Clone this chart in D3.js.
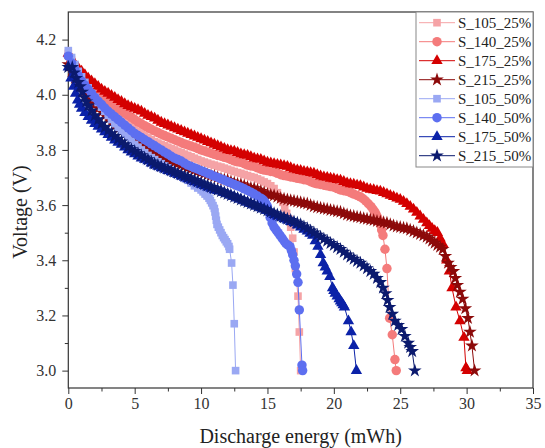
<!DOCTYPE html>
<html>
<head>
<meta charset="utf-8">
<script src="https://cdnjs.cloudflare.com/ajax/libs/d3/7.8.5/d3.min.js"></script>
<style>
  body { margin: 0; background: #fff; }
  text { font-family: "Liberation Serif", "Times New Roman", serif; }
</style>
</head>
<body>
<script>
'use strict';

// series labels (legend order = drawing order)
const seriesNames = ['S_105_25%', 'S_140_25%', 'S_175_25%', 'S_215_25%',
                     'S_105_50%', 'S_140_50%', 'S_175_50%', 'S_215_50%'];

// tick labels
const xTicks = [0, 5, 10, 15, 20, 25, 30, 35];
const yTicks = [3.0, 3.2, 3.4, 3.6, 3.8, 4.0, 4.2];

// [discharge energy (mWh), voltage (V)]
const s105_25 = [[0,4.15],[0.25,4.125],[0.5,4.10],[0.75,4.08],[1,4.06],[1.25,4.045],[1.5,4.03],
  [1.75,4.015],[2,4.00],[2.25,3.99],[2.5,3.98],[2.75,3.967],[3,3.955],[3.25,3.945],[3.5,3.935],
  [3.75,3.925],[4,3.915],[4.25,3.905],[4.5,3.895],[4.75,3.885],[5,3.875],[5.25,3.867],[5.5,3.86],
  [5.75,3.852],[6,3.845],[6.25,3.837],[6.5,3.83],[6.75,3.825],[7,3.82],[7.25,3.815],[7.5,3.81],
  [7.75,3.805],[8,3.80],[8.25,3.795],[8.5,3.79],[8.75,3.785],[9,3.78],[9.25,3.775],[9.5,3.77],
  [9.75,3.765],[10,3.76],[10.25,3.756],[10.5,3.752],[10.75,3.748],[11,3.745],[11.25,3.741],[11.5,3.738],
  [11.75,3.734],[12,3.73],[12.25,3.726],[12.5,3.722],[12.75,3.718],[13,3.715],[13.25,3.711],[13.5,3.707],
  [13.75,3.703],[14,3.70],[14.25,3.695],[14.5,3.69],[14.75,3.684],[15,3.678],[15.25,3.67],[15.5,3.66],
  [15.75,3.645],[16,3.625],[16.15,3.61],[16.3,3.59],[16.45,3.57],[16.6,3.55],[16.75,3.52],[16.9,3.48],
  [17.0,3.43],[17.1,3.37],[17.3,3.27],[17.4,3.14],[17.5,3.0]];

const s140_25 = [[0,4.14],[0.25,4.12],[0.5,4.10],[0.75,4.085],[1,4.07],[1.25,4.057],[1.5,4.045],
  [1.75,4.032],[2,4.02],[2.25,4.008],[2.5,3.996],[2.75,3.985],[3,3.975],[3.25,3.966],[3.5,3.958],[3.75,3.95],
  [4,3.942],[4.25,3.934],[4.5,3.926],[4.75,3.918],[5,3.91],[5.25,3.902],[5.5,3.895],[5.75,3.888],[6,3.881],
  [6.25,3.875],[6.5,3.869],[6.75,3.863],[7,3.857],[7.25,3.852],[7.5,3.847],[7.75,3.842],[8,3.837],[8.25,3.832],
  [8.5,3.827],[8.75,3.822],[9,3.818],[9.25,3.814],[9.5,3.81],[9.75,3.805],[10,3.80],[10.25,3.796],
  [10.5,3.792],[10.75,3.788],[11,3.784],[11.25,3.78],[11.5,3.777],[11.75,3.773],[12,3.77],[12.25,3.765],
  [12.5,3.76],[12.75,3.757],[13,3.755],[13.25,3.75],[13.5,3.745],[13.75,3.742],[14,3.74],[14.25,3.735],
  [14.5,3.73],[14.75,3.727],[15,3.725],[15.25,3.722],[15.5,3.72],[15.75,3.715],[16,3.71],[16.25,3.707],
  [16.5,3.705],[16.75,3.702],[17,3.70],[17.25,3.697],[17.5,3.695],[17.75,3.692],[18,3.69],[18.25,3.685],
  [18.5,3.68],[18.75,3.677],[19,3.675],[19.25,3.672],[19.5,3.67],[19.75,3.667],[20,3.665],[20.25,3.66],
  [20.5,3.655],[20.75,3.652],[21,3.65],[21.25,3.645],[21.5,3.64],[21.75,3.635],[22,3.63],[22.2,3.623],
  [22.4,3.615],[22.6,3.605],[22.8,3.595],[22.95,3.585],[23.1,3.575],[23.2,3.565],[23.3,3.555],
  [23.4,3.543],[23.5,3.53],[23.6,3.51],[23.7,3.49],[23.85,3.44],[24.0,3.37],[24.2,3.19],[24.4,3.13],
  [24.6,3.04],[24.7,3.0]];

const s175_25 = [[0,4.15],[0.25,4.13],[0.5,4.11],[0.75,4.097],[1,4.085],[1.25,4.072],[1.5,4.06],
  [1.75,4.05],[2,4.04],[2.25,4.03],[2.5,4.02],[2.75,4.012],[3,4.005],[3.25,3.997],[3.5,3.99],[3.75,3.982],
  [4,3.975],[4.25,3.967],[4.5,3.96],[4.75,3.955],[5,3.95],[5.25,3.945],[5.5,3.94],[5.75,3.932],[6,3.925],
  [6.25,3.92],[6.5,3.915],[6.75,3.907],[7,3.90],[7.25,3.895],[7.5,3.89],[7.75,3.885],[8,3.88],[8.25,3.875],
  [8.5,3.87],[8.75,3.865],[9,3.86],[9.25,3.855],[9.5,3.85],[9.75,3.845],[10,3.84],[10.25,3.835],
  [10.5,3.83],[10.75,3.825],[11,3.82],[11.25,3.815],[11.5,3.81],[11.75,3.805],[12,3.80],[12.25,3.797],
  [12.5,3.795],[12.75,3.79],[13,3.785],[13.25,3.782],[13.5,3.78],[13.75,3.775],[14,3.77],[14.25,3.767],
  [14.5,3.765],[14.75,3.76],[15,3.755],[15.25,3.752],[15.5,3.75],[15.75,3.747],[16,3.745],[16.25,3.742],
  [16.5,3.74],[16.75,3.735],[17,3.73],[17.25,3.727],[17.5,3.725],[17.75,3.722],[18,3.72],[18.25,3.717],
  [18.5,3.715],[18.75,3.71],[19,3.705],[19.25,3.702],[19.5,3.70],[19.75,3.697],[20,3.695],[20.25,3.692],
  [20.5,3.69],[20.75,3.685],[21,3.68],[21.25,3.677],[21.5,3.675],[21.75,3.672],[22,3.67],[22.25,3.665],
  [22.5,3.66],[22.75,3.657],[23,3.655],[23.25,3.652],[23.5,3.65],[23.75,3.645],[24,3.64],[24.25,3.635],
  [24.5,3.63],[24.75,3.625],[25,3.62],[25.25,3.613],[25.5,3.605],[25.75,3.595],[26,3.585],[26.25,3.573],
  [26.5,3.56],[26.75,3.548],[27,3.535],[27.2,3.525],[27.4,3.515],[27.6,3.507],[27.8,3.50],[28.0,3.48],
  [28.2,3.46],[28.5,3.40],[28.7,3.36],[28.9,3.30],[29.2,3.23],[29.5,3.18],[29.8,3.12],[29.95,3.01],
  [30.05,3.0]];

const s215_25 = [[0,4.11],[0.25,4.085],[0.5,4.06],[0.75,4.045],[1,4.03],[1.25,4.013],[1.5,3.996],
  [1.75,3.98],[2,3.965],[2.25,3.951],[2.5,3.938],[2.75,3.925],[3,3.912],[3.25,3.90],[3.5,3.889],[3.75,3.878],
  [4,3.868],[4.25,3.858],[4.5,3.849],[4.75,3.84],[5,3.831],[5.25,3.823],[5.5,3.815],[5.75,3.808],[6,3.801],
  [6.25,3.795],[6.5,3.789],[6.75,3.783],[7,3.777],[7.25,3.771],[7.5,3.766],[7.75,3.761],[8,3.756],[8.25,3.751],
  [8.5,3.746],[8.75,3.741],[9,3.736],[9.25,3.732],[9.5,3.727],[9.75,3.723],[10,3.719],[10.25,3.715],
  [10.5,3.71],[10.75,3.707],[11,3.705],[11.25,3.70],[11.5,3.695],[11.75,3.692],[12,3.69],[12.25,3.685],
  [12.5,3.68],[12.75,3.677],[13,3.675],[13.25,3.67],[13.5,3.665],[13.75,3.662],[14,3.66],[14.25,3.655],
  [14.5,3.65],[14.75,3.645],[15,3.64],[15.25,3.637],[15.5,3.635],[15.75,3.63],[16,3.625],[16.25,3.622],
  [16.5,3.62],[16.75,3.617],[17,3.615],[17.25,3.612],[17.5,3.61],[17.75,3.607],[18,3.605],[18.25,3.60],
  [18.5,3.595],[18.75,3.592],[19,3.59],[19.25,3.587],[19.5,3.585],[19.75,3.582],[20,3.58],[20.25,3.577],
  [20.5,3.575],[20.75,3.57],[21,3.565],[21.25,3.562],[21.5,3.56],[21.75,3.557],[22,3.555],[22.25,3.552],
  [22.5,3.55],[22.75,3.547],[23,3.545],[23.25,3.542],[23.5,3.54],[23.75,3.537],[24,3.535],[24.25,3.53],
  [24.5,3.525],[24.75,3.522],[25,3.52],[25.25,3.517],[25.5,3.515],[25.75,3.51],[26,3.505],[26.25,3.50],
  [26.5,3.495],[26.75,3.49],[27,3.485],[27.2,3.478],[27.4,3.47],[27.6,3.463],[27.8,3.455],[28.0,3.448],
  [28.2,3.44],[28.4,3.415],[28.6,3.39],[28.8,3.375],[29.0,3.36],[29.15,3.335],[29.3,3.31],[29.5,3.285],
  [29.7,3.26],[29.9,3.225],[30.1,3.19],[30.25,3.14],[30.4,3.09],[30.6,3.0]];

const s105_50 = [[0,4.16],[0.25,4.135],[0.5,4.11],[0.75,4.085],[1,4.065],[1.25,4.045],[1.5,4.025],
  [1.75,4.005],[2,3.99],[2.25,3.972],[2.5,3.955],[2.75,3.94],[3,3.925],[3.25,3.91],[3.5,3.895],
  [3.75,3.882],[4,3.87],[4.25,3.857],[4.5,3.845],[4.75,3.832],[5,3.82],[5.25,3.81],[5.5,3.80],[5.75,3.79],
  [6,3.78],[6.25,3.772],[6.5,3.765],[6.75,3.757],[7,3.75],[7.25,3.742],[7.5,3.735],[7.75,3.727],[8,3.72],
  [8.25,3.712],[8.5,3.705],[8.75,3.697],[9,3.69],[9.25,3.68],[9.5,3.67],[9.75,3.662],[10,3.655],
  [10.15,3.648],[10.3,3.64],[10.45,3.633],[10.6,3.625],[10.7,3.617],[10.8,3.608],[10.9,3.598],[11.0,3.588],
  [11.05,3.575],[11.1,3.56],[11.15,3.545],[11.2,3.53],[11.3,3.52],[11.4,3.51],[11.5,3.50],[11.6,3.49],
  [11.7,3.482],[11.8,3.475],[11.9,3.467],[12.0,3.46],[12.1,3.45],[12.15,3.44],[12.3,3.39],[12.4,3.31],
  [12.5,3.17],[12.6,3.0]];

const s140_50 = [[0,4.14],[0.25,4.115],[0.5,4.09],[0.75,4.07],[1,4.05],[1.25,4.035],[1.5,4.02],
  [1.75,4.005],[2,3.99],[2.25,3.977],[2.5,3.965],[2.75,3.952],[3,3.94],[3.25,3.93],[3.5,3.92],[3.75,3.91],
  [4,3.90],[4.25,3.89],[4.5,3.88],[4.75,3.87],[5,3.86],[5.25,3.852],[5.5,3.845],[5.75,3.837],[6,3.83],
  [6.25,3.822],[6.5,3.815],[6.75,3.807],[7,3.80],[7.25,3.792],[7.5,3.785],[7.75,3.777],[8,3.77],
  [8.25,3.765],[8.5,3.76],[8.75,3.752],[9,3.745],[9.25,3.74],[9.5,3.735],[9.75,3.73],[10,3.725],
  [10.25,3.72],[10.5,3.715],[10.75,3.71],[11,3.705],[11.25,3.70],[11.5,3.695],[11.75,3.69],[12,3.685],
  [12.25,3.68],[12.5,3.675],[12.75,3.67],[13,3.665],[13.25,3.659],[13.5,3.653],[13.75,3.647],[14,3.64],
  [14.25,3.633],[14.5,3.625],[14.65,3.62],[14.8,3.612],[14.9,3.604],[15.0,3.595],[15.1,3.578],[15.2,3.555],
  [15.35,3.535],[15.5,3.52],[15.65,3.51],[15.8,3.50],[15.95,3.49],[16.1,3.48],[16.25,3.47],[16.4,3.46],
  [16.55,3.455],[16.7,3.45],[16.8,3.435],[16.9,3.42],[17.0,3.40],[17.1,3.38],[17.2,3.35],[17.3,3.32],
  [17.4,3.22],[17.6,3.02],[17.65,3.0]];

const s175_50 = [[0,4.10],[0.2,4.06],[0.4,4.03],[0.55,4.005],[0.7,3.98],[0.85,3.965],[1,3.95],
  [1.25,3.935],[1.5,3.92],[1.75,3.907],[2,3.895],[2.25,3.885],[2.5,3.875],[2.75,3.865],[3,3.855],
  [3.25,3.845],[3.5,3.835],[3.75,3.827],[4,3.82],[4.25,3.81],[4.5,3.80],[4.75,3.792],[5,3.785],
  [5.25,3.777],[5.5,3.77],[5.75,3.765],[6,3.76],[6.25,3.752],[6.5,3.745],[6.75,3.74],[7,3.735],
  [7.25,3.73],[7.5,3.725],[7.75,3.72],[8,3.715],[8.25,3.71],[8.5,3.705],[8.75,3.70],[9,3.695],
  [9.25,3.69],[9.5,3.685],[9.75,3.68],[10,3.675],[10.25,3.67],[10.5,3.665],[10.75,3.66],[11,3.655],
  [11.25,3.652],[11.5,3.65],[11.75,3.645],[12,3.64],[12.25,3.635],[12.5,3.63],[12.75,3.625],[13,3.62],
  [13.25,3.615],[13.5,3.61],[13.75,3.605],[14,3.60],[14.25,3.595],[14.5,3.59],[14.75,3.585],[15,3.58],
  [15.25,3.572],[15.5,3.565],[15.75,3.56],[16,3.555],[16.25,3.55],[16.5,3.545],[16.75,3.54],[17,3.535],
  [17.25,3.527],[17.5,3.52],[17.75,3.512],[18,3.505],[18.2,3.497],[18.4,3.49],[18.6,3.47],[18.8,3.45],
  [19.0,3.42],[19.2,3.39],[19.35,3.375],[19.5,3.36],[19.7,3.34],[19.9,3.30],[20.0,3.29],[20.1,3.28],
  [20.25,3.27],[20.4,3.26],[20.5,3.252],[20.6,3.245],[20.7,3.238],[20.8,3.23],[21.1,3.18],[21.3,3.14],
  [21.5,3.09],[21.7,3.0]];

const s215_50 = [[0,4.10],[0.3,4.10],[0.45,4.08],[0.6,4.06],[0.75,4.045],[0.9,4.03],[1.05,4.01],
  [1.2,3.99],[1.35,3.975],[1.5,3.96],[1.75,3.942],[2,3.925],[2.25,3.91],[2.5,3.895],[2.75,3.882],[3,3.87],
  [3.25,3.86],[3.5,3.85],[3.75,3.84],[4,3.83],[4.25,3.82],[4.5,3.81],[4.75,3.802],[5,3.795],[5.25,3.787],
  [5.5,3.78],[5.75,3.772],[6,3.765],[6.25,3.757],[6.5,3.75],[6.75,3.745],[7,3.74],[7.25,3.735],[7.5,3.73],
  [7.75,3.725],[8,3.72],[8.25,3.715],[8.5,3.71],[8.75,3.705],[9,3.70],[9.25,3.695],[9.5,3.69],
  [9.75,3.685],[10,3.68],[10.25,3.675],[10.5,3.67],[10.75,3.665],[11,3.66],[11.25,3.655],[11.5,3.65],
  [11.75,3.645],[12,3.64],[12.25,3.635],[12.5,3.63],[12.75,3.625],[13,3.62],[13.25,3.615],[13.5,3.61],
  [13.75,3.605],[14,3.60],[14.25,3.595],[14.5,3.59],[14.75,3.585],[15,3.58],[15.25,3.575],[15.5,3.57],
  [15.75,3.565],[16,3.56],[16.25,3.555],[16.5,3.55],[16.75,3.545],[17,3.54],[17.25,3.535],[17.5,3.53],
  [17.75,3.522],[18,3.515],[18.25,3.507],[18.5,3.50],[18.75,3.492],[19,3.485],[19.25,3.477],[19.5,3.47],
  [19.75,3.462],[20,3.455],[20.25,3.447],[20.5,3.44],[20.75,3.43],[21,3.42],[21.25,3.412],[21.5,3.405],
  [21.75,3.397],[22,3.39],[22.25,3.38],[22.5,3.37],[22.75,3.36],[23,3.35],[23.25,3.335],[23.5,3.32],
  [23.7,3.30],[23.9,3.28],[24.05,3.255],[24.2,3.23],[24.4,3.205],[24.6,3.18],[24.85,3.165],[25.1,3.15],
  [25.35,3.125],[25.6,3.10],[25.75,3.085],[25.9,3.07],[26.1,3.0]];

const seriesData = [s105_25, s140_25, s175_25, s215_25, s105_50, s140_50, s175_50, s215_50];

// styles per series
const seriesColors = ['#f5a3a6', '#f47b7b', '#d40000', '#8c0a0a',
                      '#9aa8f3', '#5d6ff0', '#0b22a8', '#0b1a6e'];
const seriesSymbols = [d3.symbolSquare, d3.symbolCircle, d3.symbolTriangle, d3.symbolStar,
                       d3.symbolSquare, d3.symbolCircle, d3.symbolTriangle, d3.symbolStar];
const symbolSizes = [58, 70, 56, 58, 58, 70, 56, 58];

const svgWidth = 545, svgHeight = 448;
const plot = {left: 68.3, right: 533, top: 12, bottom: 388};
const serif = '"Liberation Serif", "Times New Roman", serif';

const svgContainer = d3.select('body')
  .append('svg')
  .attr('width', svgWidth)
  .attr('height', svgHeight);

// scales
const xScale = d3.scaleLinear()
  .domain([0, 35])
  .range([plot.left, plot.right]);

const yScale = d3.scaleLinear()
  .domain([2.937, 4.3])
  .range([plot.bottom, plot.top]);

// x axis: major + minor ticks
svgContainer.append('g')
  .attr('transform', 'translate(0,' + plot.bottom + ')')
  .attr('font-family', serif)
  .call(d3.axisBottom(xScale).tickValues(xTicks).tickSize(6).tickSizeOuter(0).tickPadding(4));
svgContainer.append('g')
  .attr('transform', 'translate(0,' + plot.bottom + ')')
  .call(d3.axisBottom(xScale).tickValues(d3.range(2.5, 35, 5)).tickSize(3.5).tickFormat(''));

// y axis: major + minor ticks
svgContainer.append('g')
  .attr('transform', 'translate(' + plot.left + ',0)')
  .attr('font-family', serif)
  .call(d3.axisLeft(yScale).tickValues(yTicks).tickFormat(d3.format('.1f'))
    .tickSize(6).tickSizeOuter(0).tickPadding(6));
svgContainer.append('g')
  .attr('transform', 'translate(' + plot.left + ',0)')
  .call(d3.axisLeft(yScale).tickValues(d3.range(3.1, 4.2, 0.2)).tickSize(3.5).tickFormat(''));

svgContainer.selectAll('.domain').remove();
svgContainer.selectAll('.tick line').attr('stroke', '#333');
svgContainer.selectAll('.tick text')
  .attr('fill', '#333')
  .style('font-size', '16px')
  .style('font-family', serif);

// frame
svgContainer.append('rect')
  .attr('x', plot.left)
  .attr('y', plot.top)
  .attr('width', plot.right - plot.left)
  .attr('height', plot.bottom - plot.top)
  .attr('fill', 'none')
  .attr('stroke', '#333')
  .attr('stroke-width', 1.2);

// lines and markers
const line = d3.line()
  .x(d => xScale(d[0]))
  .y(d => yScale(d[1]));

seriesData.forEach((data, i) => {
  const g = svgContainer.append('g');
  g.append('path')
    .datum(data)
    .attr('d', line)
    .attr('fill', 'none')
    .attr('stroke', seriesColors[i])
    .attr('stroke-width', 1);
  g.selectAll('path.marker')
    .data(data)
    .enter()
    .append('path')
      .attr('class', 'marker')
      .attr('transform', d => 'translate(' + xScale(d[0]) + ',' + yScale(d[1]) + ')')
      .attr('d', d3.symbol().type(seriesSymbols[i]).size(symbolSizes[i]))
      .attr('fill', seriesColors[i]);
});

// legend
const legend = svgContainer.append('g');
legend.append('rect')
  .attr('x', 416)
  .attr('y', plot.top)
  .attr('width', plot.right - 416)
  .attr('height', 155)
  .attr('fill', '#fff')
  .attr('stroke', '#888')
  .attr('stroke-width', 1);

seriesNames.forEach((name, i) => {
  const cy = 22.7 + i * 19;
  legend.append('line')
    .attr('x1', 419).attr('x2', 455)
    .attr('y1', cy).attr('y2', cy)
    .attr('stroke', seriesColors[i])
    .attr('stroke-width', 1);
  legend.append('path')
    .attr('transform', 'translate(437,' + cy + ')')
    .attr('d', d3.symbol().type(seriesSymbols[i]).size(symbolSizes[i]))
    .attr('fill', seriesColors[i]);
  legend.append('text')
    .attr('x', 458)
    .attr('y', cy + 5)
    .attr('fill', '#222')
    .style('font-size', '15px')
    .text(name);
});

// axis titles
svgContainer.append('text')
  .attr('x', (plot.left + plot.right) / 2)
  .attr('y', 443)
  .attr('text-anchor', 'middle')
  .attr('fill', '#222')
  .style('font-size', '20px')
  .text('Discharge energy (mWh)');

svgContainer.append('text')
  .attr('transform', 'translate(27, 212)rotate(-90)')
  .attr('text-anchor', 'middle')
  .attr('fill', '#222')
  .style('font-size', '20px')
  .text('Voltage (V)');
</script>
</body>
</html>
